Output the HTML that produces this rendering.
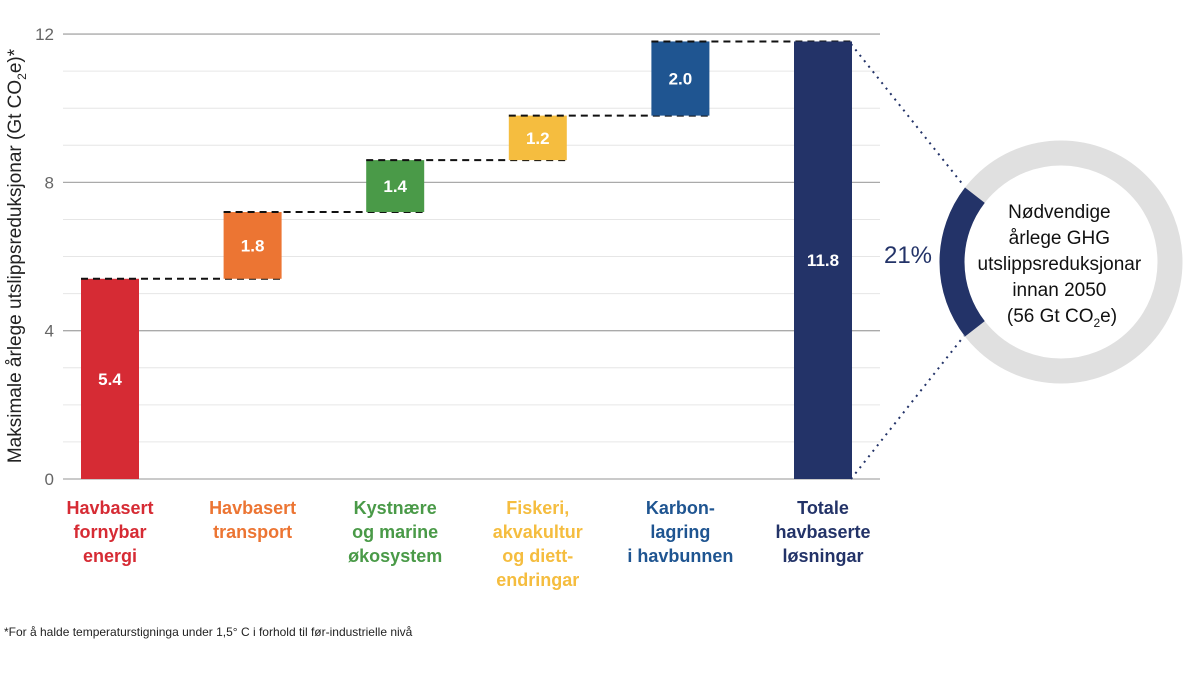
<!DOCTYPE html>
<html><head><meta charset="utf-8"><style>
body{margin:0;background:#fff;}
svg{display:block;font-family:"Liberation Sans",sans-serif;}
</style></head><body>
<svg width="1200" height="674" viewBox="0 0 1200 674">
<g id="grid"></g>
<g id="bars"></g>
<g id="labels"></g>
<text transform="translate(21,256) rotate(-90)" text-anchor="middle" font-size="19" fill="#222">Maksimale årlege utslippsreduksjonar (Gt CO<tspan font-size="12" dy="5">2</tspan><tspan dy="-5">e)*</tspan></text>
<g>
<circle cx="1061" cy="262" r="109" fill="none" stroke="#e0e0e0" stroke-width="25"/>
<path id="arc" fill="none" stroke="#233368" stroke-width="25"/>
<line x1="851" y1="44" x2="964" y2="186" stroke="#233368" stroke-width="2" stroke-dasharray="2,5"/>
<line x1="851" y1="479" x2="964" y2="336" stroke="#233368" stroke-width="2" stroke-dasharray="2,5"/>
<text x="908" y="263" text-anchor="middle" font-size="24" fill="#233368">21%</text>
<text text-anchor="middle" font-size="19" fill="#111">
<tspan x="1062" y="218">Nødvendige</tspan>
<tspan x="1062" y="244">årlege GHG</tspan>
<tspan x="1062" y="270">utslippsreduksjonar</tspan>
<tspan x="1062" y="296">innan 2050</tspan>
<tspan x="1062" y="322">(56 Gt CO<tspan font-size="12" dy="5">2</tspan><tspan dy="-5">e)</tspan></tspan>
</text>
</g>
<text x="4" y="636" font-size="12" fill="#222">*For å halde temperaturstigninga under 1,5° C i forhold til før-industrielle nivå</text>
</svg>
<script>
const categories=[["Havbasert","fornybar","energi"],["Havbasert","transport"],["Kystnære","og marine","økosystem"],["Fiskeri,","akvakultur","og diett-","endringar"],["Karbon-","lagring","i havbunnen"],["Totale","havbaserte","løsningar"]];
const values=[5.4,1.8,1.4,1.2,2.0,11.8];
const valueLabels=["5.4","1.8","1.4","1.2","2.0","11.8"];
const colors=["#d62b34","#ec7533","#4a9a48","#f5bd3f","#1f5591","#233368"];
const yTicks=[0,4,8,12];
const share=0.21;
const NS="http://www.w3.org/2000/svg";
const y=v=>479-v*37.08;
const xc=i=>110+i*142.6;
const bw=58;
function mk(t,a,p){const e=document.createElementNS(NS,t);for(const k in a)e.setAttribute(k,a[k]);p.appendChild(e);return e;}
const grid=document.getElementById('grid'),bars=document.getElementById('bars'),lab=document.getElementById('labels');
for(let v=0;v<=12;v++){const major=yTicks.includes(v);
const l=mk('line',{x1:63,x2:880,y1:y(v),y2:y(v),stroke:major?'#aaa':'#e6e6e6','stroke-width':major?1.3:1},grid);

}
yTicks.forEach(v=>{const t=mk('text',{x:54,y:y(v)+6,'text-anchor':'end','font-size':17,fill:'#666'},grid);t.textContent=v;

});
let cum=0;
values.forEach((v,i)=>{const last=i===values.length-1;const base=last?0:cum;const top=last?v:cum+v;
const r=mk('rect',{x:xc(i)-bw/2,y:y(top),width:bw,height:y(base)-y(top),fill:colors[i]},bars);


const t=mk('text',{x:xc(i),y:(y(top)+y(base))/2+6,'text-anchor':'middle','font-size':17,'font-weight':'bold',fill:'#fff'},bars);t.textContent=valueLabels[i];


if(i<values.length-1){const d=mk('line',{x1:xc(i)-bw/2,x2:xc(i+1)+bw/2,y1:y(top),y2:y(top),stroke:'#111','stroke-width':2,'stroke-dasharray':'7,5'},bars);

}
if(!last)cum+=v;
const c=mk('text',{'text-anchor':'middle','font-size':18,'font-weight':'bold',fill:colors[i]},lab);


categories[i].forEach((s,j)=>{const ts=mk('tspan',{x:xc(i),y:514+j*24},c);ts.textContent=s;});
});
const a=share*Math.PI,cx=1061,cy=262,R=109;
document.getElementById('arc').setAttribute('d',`M${cx-R*Math.cos(a)} ${cy-R*Math.sin(a)} A${R} ${R} 0 0 0 ${cx-R*Math.cos(a)} ${cy+R*Math.sin(a)}`);
</script>
</body></html>
